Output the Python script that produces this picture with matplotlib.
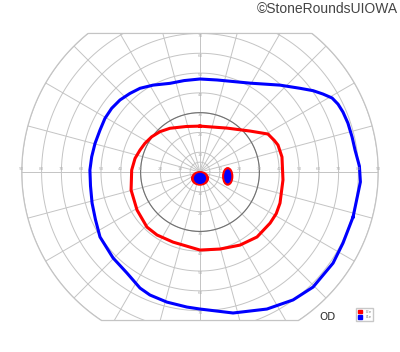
""" Goldmann visual field chart, right eye (OD) """

import numpy as np
import matplotlib.pyplot as plt
from matplotlib.patches import Polygon, Ellipse, Patch

# isopter I4e (blue), degrees: x = horizontal, y = vertical
i4e_x = [77.3, 81.0, 80.5, 78.3, 76.8, 74.7, 72.2, 69.7, 66.7, 62.1, 57.1, 50.5,
         40.4, 25.3, 8.6, 0.0, -8.0, -15.2, -23.7, -30.3, -35.4, -40.4, -44.6,
         -48.0, -50.5, -53.0, -54.7, -55.6, -55.3, -54.5, -52.8, -50.5, -43.9,
         -36.9, -30.3, -25.3, -16.7, -6.6, 0.0, 16.7, 33.8, 47.0, 57.1, 67.2, 72.2]
i4e_y = [-22.7, -5.0, 3.0, 11.1, 17.7, 24.7, 30.3, 34.3, 37.4, 39.4, 41.1, 42.3,
         43.9, 44.9, 46.5, 47.0, 46.2, 44.8, 43.9, 42.3, 39.7, 36.4, 32.2,
         27.1, 21.2, 14.5, 7.7, 1.0, -7.0, -15.7, -24.0, -32.8, -43.4,
         -51.0, -58.6, -62.1, -65.7, -68.2, -69.2, -71.2, -69.2, -64.6, -58.1, -46.0, -35.9]

# isopter I2e (red)
i2e_x = [0.0, 13.6, 25.3, 34.3, 37.5, 39.4, 41.4, 41.9, 40.4, 38.5, 35.4, 28.8,
         20.2, 10.1, 0.0, -13.6, -21.7, -26.8, -31.8, -34.8, -34.5, -32.8, -30.3,
         -27.8, -24.4, -20.2, -15.2, -7.0]
i2e_y = [23.2, 22.2, 20.7, 19.2, 16.0, 13.6, 7.6, -4.0, -15.7, -21.0, -25.8, -32.8,
         -36.9, -38.9, -39.4, -35.4, -31.8, -27.8, -19.2, -9.1, 1.0, 6.9, 11.1,
         14.5, 17.8, 20.4, 22.1, 23.0]

# scotomas: centre x, centre y, width, height (degrees)
scot_i2e = [(0.0, -3.2, 8.4, 6.7), (14.0, -2.2, 5.0, 8.7)]
scot_i4e = [(0.0, -3.2, 5.5, 5.0), (14.0, -2.2, 2.9, 6.4)]

rings = [5, 10, 20, 30, 40, 50, 60, 70, 80, 90]
spokes = np.arange(0, 360, 15)
h_ticks = [10, 20, 30, 40, 50, 60, 70, 80, 90]
v_ticks = [10, 20, 30, 40, 50, 60, 70]
top_edge, bottom_edge = 70, -75

grid_col = "#c4c4c4"
label_col = "#b0b0b0"

fig = plt.figure(figsize=(4, 3.52), dpi=100)
ax = fig.add_axes([0, 0, 1, 1])
ax.set_xlim(-101, 101)
ax.set_ylim(-90.9, 86.9)
ax.axis("off")

# chart outline: circle of 90 deg cut off at the top and bottom
t = np.linspace(0, 2 * np.pi, 721)
edge = np.column_stack([90 * np.cos(t), np.clip(90 * np.sin(t), bottom_edge, top_edge)])
clip = Polygon(edge, closed=True, fill=False, edgecolor=grid_col, lw=0.9)
ax.add_patch(clip)

for r in rings:
    ln, = ax.plot(r * np.cos(t), r * np.sin(t), color=grid_col, lw=0.7)
    ln.set_clip_path(clip)
for a in np.radians(spokes):
    ln, = ax.plot([0, 100 * np.cos(a)], [0, 100 * np.sin(a)], color=grid_col, lw=0.7)
    ln.set_clip_path(clip)

# 30 degree ring in darker grey
ax.plot(30 * np.cos(t), 30 * np.sin(t), color="#707070", lw=0.8)

for v in h_ticks:
    ax.text(-v, 1.4, str(v), fontsize=3, color=label_col, ha="center", va="center")
    ax.text(v, 1.4, str(v), fontsize=3, color=label_col, ha="center", va="center")
for v in v_ticks:
    ax.text(0, v - 1.2, str(v), fontsize=3, color=label_col, ha="center", va="center")
    ax.text(0, -v - 1.2, str(v), fontsize=3, color=label_col, ha="center", va="center")

ax.plot(i4e_x + i4e_x[:1], i4e_y + i4e_y[:1], color="#0000ff", lw=2.2,
        solid_joinstyle="round")
ax.plot(i2e_x + i2e_x[:1], i2e_y + i2e_y[:1], color="#ff0000", lw=2.2,
        solid_joinstyle="round")

for cx, cy, w, h in scot_i2e:
    ax.add_patch(Ellipse((cx, cy), w, h, color="#ff0000", zorder=4))
for cx, cy, w, h in scot_i4e:
    ax.add_patch(Ellipse((cx, cy), w, h, color="#0000ff", zorder=5))

ax.legend(handles=[Patch(color="#ff0000", label="I2e"), Patch(color="#0000ff", label="I4e")],
          loc="lower right", bbox_to_anchor=(0.933, 0.088), borderaxespad=0,
          fontsize=3, handlelength=1.0, handleheight=1.0, handletextpad=0.8,
          labelspacing=0.3, borderpad=0.4, fancybox=False, edgecolor="#bbbbbb",
          labelcolor="#888888")

fig.text(328 / 400, 1 - 317 / 352, "OD", fontsize=7.5, color="#333333",
         ha="center", va="center")
fig.text(0.995, 1 - 9 / 352, "\u00a9StoneRoundsUIOWA", fontsize=10, color="#444444",
         ha="right", va="center", family="Liberation Sans")

fig.savefig("out.png", dpi=100)
